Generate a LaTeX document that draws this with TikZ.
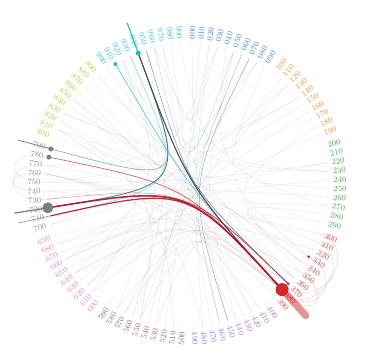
\documentclass[tikz,border=0pt]{standalone}
\usetikzlibrary{calc}
\definecolor{G0}{HTML}{1F77B4}
\definecolor{G1}{HTML}{FF7F0E}
\definecolor{G2}{HTML}{2CA02C}
\definecolor{G3}{HTML}{D62728}
\definecolor{G4}{HTML}{9467BD}
\definecolor{G5}{HTML}{8C564B}
\definecolor{G6}{HTML}{E377C2}
\definecolor{G7}{HTML}{7F7F7F}
\definecolor{G8}{HTML}{BCBD22}
\definecolor{G9}{HTML}{17BECF}
\definecolor{Rd}{HTML}{B2182B}
\definecolor{Dk}{HTML}{4A4656}
\definecolor{Tl}{HTML}{2A7080}
\definecolor{Bg}{HTML}{6C7BA8}
\tikzset{
  lab/.style={font=\fontsize{8.2}{9}\selectfont, inner sep=0.3pt},
  tick/.style={circle, fill=black!15, inner sep=0pt, minimum size=1.2pt},
  wire/.style={line width=0.4pt, opacity=0.18},
  strong/.style={line width=1.1pt, opacity=0.9},
  hub/.style={circle, inner sep=0pt},
}
\newcommand{\chord}[3]{\draw[#3] (p#1) .. controls (ctr) .. (p#2);}
\newcommand{\wirec}[3]{\draw[#3] (p#1) .. controls ($(ctr)!0.3!($(p#1)!0.5!(p#2)$)$) .. (p#2);}

\begin{document}
\begin{tikzpicture}[x=1pt,y=1pt]
  \useasboundingbox (-187,-175.5) rectangle (187,185.5);
  \coordinate (ctr) at (0,0);
  \foreach \n in {0,...,99}{
    \pgfmathtruncatemacro\g{\n/10}
    \pgfmathtruncatemacro\j{\n-10*\g}
    \pgfmathsetmacro\ang{88-36*\g-3.45*\j}
    \pgfmathtruncatemacro\rs{cos(\ang)>0}
    \node[tick] (p\n) at (\ang:141) {};
    \ifnum\rs=1
      \node[lab, text=G\g!85, anchor=west, rotate=\ang] (l\n) at (\ang:146) {\ifnum\n<10 0\fi\n0};
    \else
      \pgfmathsetmacro\rot{\ang+180}
      \node[lab, text=G\g!85, anchor=east, rotate=\rot] (l\n) at (\ang:146) {\ifnum\n<10 0\fi\n0};
    \fi
  }
  \foreach \s/\t/\c in {0/45/G0, 1/52/G0, 2/48/G0, 3/97/G0, 4/27/G0, 8/62/G0, 9/33/G0, 6/55/G0,
      11/56/G1, 14/83/G1, 16/62/G1, 12/70/G1, 18/35/G1,
      22/75/G2, 25/81/G2, 26/74/G7, 28/34/G2, 23/91/G2, 27/66/G2,
      30/66/G3, 32/58/G3, 33/84/G3, 35/61/G3, 36/53/G3, 31/77/G3, 34/89/G3, 38/55/G3,
      37/64/G3, 38/68/G3, 39/57/G3, 36/85/G3,
      41/76/G4, 43/86/G4, 46/98/G4, 48/67/G4, 44/5/G4, 42/92/G4,
      51/76/G5, 53/92/G5, 55/81/G5, 57/12/G5, 54/2/G5, 56/95/G5,
      61/82/G6, 63/19/G6, 65/38/G6, 68/24/G6, 64/38/G6, 69/37/G6, 66/7/G6, 62/29/G6,
      70/22/G7, 73/15/G7, 75/8/G7, 76/44/G7, 76/38/G7, 74/38/G7, 77/3/G7,
      81/36/G8, 83/17/G8, 85/55/G8, 87/42/G8, 80/29/G8, 82/38/G8, 88/5/G8,
      90/38/G9, 92/58/G9, 95/36/G9, 97/47/G9, 99/23/G9, 93/64/G9, 96/14/G9}
    {\wirec{\s}{\t}{wire, \c!55!gray}}
  \foreach \s/\t/\c in {31/38/G3, 33/38/G3, 35/38/G3, 30/37/G3, 73/77/G7, 74/76/G7, 75/78/G7}
    {\draw[wire, \c, opacity=0.25] (p\s) .. controls ($(ctr)!1.32!(p\s)$) and ($(ctr)!1.32!(p\t)$) .. (p\t);}
  \chord{5}{96}{G0, line width=0.4pt, opacity=0.3}
  \chord{6}{46}{G0, line width=0.4pt, opacity=0.35}
  \chord{7}{45}{Bg, line width=0.5pt, opacity=0.65}
  \chord{71}{93}{G9, line width=0.5pt, opacity=0.55}
  \chord{79}{94}{Tl!70, line width=0.6pt, opacity=0.85}
  \chord{72}{94}{Tl, line width=0.8pt, opacity=0.9}
  \chord{91}{38}{G9, line width=0.6pt, opacity=0.8}
  \chord{95}{38}{Dk, line width=0.5pt, opacity=0.6}
  \chord{94}{37}{Dk, line width=0.6pt, opacity=0.7}
  \chord{94}{38}{Dk, line width=0.9pt}
  \chord{73}{38}{G3, line width=0.5pt, opacity=0.5}
  \chord{78}{38}{Rd, line width=0.6pt, opacity=0.75}
  \chord{72}{37}{Rd, line width=0.8pt, opacity=0.8}
  \chord{71}{38}{strong, Rd, line width=1.2pt}
  \chord{72}{38}{strong, Rd, line width=1.5pt}
  \coordinate (s71) at ($(ctr)!1.22!(p71)$);
  \coordinate (s72) at ($(ctr)!1.24!(p72)$);
  \coordinate (s79) at ($(ctr)!1.24!(p79)$);
  \coordinate (s94) at ($(ctr)!1.23!(p94)$);
  \coordinate (b38) at ($(ctr)!1.05!(p38)$);
  \coordinate (e38) at ($(ctr)!1.25!(p38)$);
  \draw[G7, line width=0.5pt] (p71) -- (s71);
  \draw[G7, line width=1.3pt] (p72) -- (s72);
  \draw[G7, line width=0.8pt] (p79) -- (s79);
  \draw[G9, line width=1.1pt] (p94) -- (s94);
  \draw[G3, opacity=0.5, line width=7pt, line cap=round] (b38) -- (e38);
  \node[hub, fill=G7, minimum size=11pt] (h72) at (p72) {};
  \node[hub, fill=G7, minimum size=5pt] (h79) at (p79) {};
  \node[hub, fill=G7, minimum size=5pt] (h78) at (p78) {};
  \node[hub, fill=G9, minimum size=5pt] (h94) at (p94) {};
  \node[hub, fill=G9, minimum size=4pt] (h91) at (p91) {};
  \node[hub, fill=G3, minimum size=13pt] (h38) at (p38) {};
  \node[hub, fill=G3, minimum size=3pt] (h33) at (p33) {};
  \node[hub, fill=G3, minimum size=3pt] (h37) at (p37) {};
\end{tikzpicture}
\end{document}
